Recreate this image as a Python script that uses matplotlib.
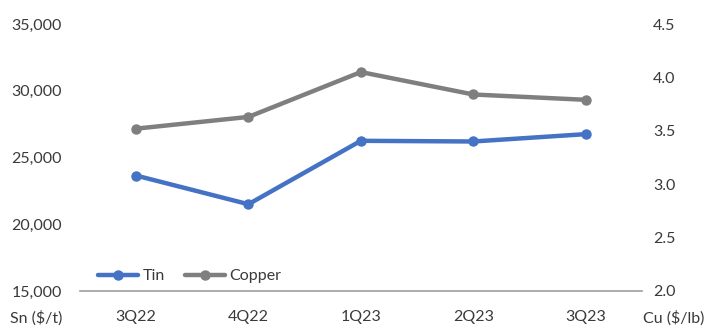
import matplotlib
matplotlib.use("Agg")
import matplotlib.pyplot as plt
from matplotlib.ticker import FuncFormatter

# Quarterly average prices
quarters = ["3Q22", "4Q22", "1Q23", "2Q23", "3Q23"]
tin_usd_per_t = [23650, 21500, 26250, 26200, 26750]
copper_usd_per_lb = [3.52, 3.63, 4.05, 3.84, 3.79]

sn_ticks = [15000, 20000, 25000, 30000, 35000]
cu_ticks = [2.0, 2.5, 3.0, 3.5, 4.0, 4.5]

plt.rcParams["font.family"] = ["Lato", "DejaVu Sans"]
text_color = "#3A3A3A"
fs = 11.5

fig = plt.figure(figsize=(7.10, 3.27), dpi=100)
ax = fig.add_axes([0.1123, 0.1101, 0.7919, 0.8165])
ax2 = ax.twinx()

x = list(range(len(quarters)))
tin_line, = ax.plot(x, tin_usd_per_t, color="#4472C4", lw=3.2, marker="o",
                    markersize=6.5, label="Tin", solid_capstyle="round")
cu_line, = ax2.plot(x, copper_usd_per_lb, color="#7F7F7F", lw=3.2, marker="o",
                    markersize=6.5, label="Copper", solid_capstyle="round")

ax.set_xlim(-0.5, len(quarters) - 0.5)
ax.set_ylim(sn_ticks[0], sn_ticks[-1])
ax2.set_ylim(cu_ticks[0], cu_ticks[-1])
ax.set_xticks(x)
ax.set_xticklabels(quarters)
ax.set_yticks(sn_ticks)
ax2.set_yticks(cu_ticks)
ax.yaxis.set_major_formatter(FuncFormatter(lambda v, p: f"{int(v):,}"))
ax2.yaxis.set_major_formatter(FuncFormatter(lambda v, p: f"{v:.1f}"))

for a in (ax, ax2):
    for side in ("top", "left", "right", "bottom"):
        a.spines[side].set_visible(False)
    a.tick_params(length=0, labelsize=fs, labelcolor=text_color)
ax.spines["bottom"].set_visible(True)
ax.spines["bottom"].set_color("#9E9E9E")
ax.spines["bottom"].set_linewidth(1.2)
ax.tick_params(axis="x", pad=14)
ax.tick_params(axis="y", pad=13)
ax2.tick_params(axis="y", pad=8)

fig.text(10 / 710, 1 - 318 / 327, "Sn ($/t)", fontsize=fs, color=text_color,
         va="center", ha="left")
fig.text(643 / 710, 1 - 318 / 327, "Cu ($/lb)", fontsize=fs, color=text_color,
         va="center", ha="left")

leg = ax.legend(handles=[tin_line, cu_line], loc="center left",
                bbox_to_anchor=(0.022, 0.055), ncol=2, frameon=False,
                fontsize=fs, handlelength=2.5, handletextpad=0.3,
                columnspacing=1.2, borderaxespad=0)
for t in leg.get_texts():
    t.set_color(text_color)

fig.savefig("out.png", dpi=100)
